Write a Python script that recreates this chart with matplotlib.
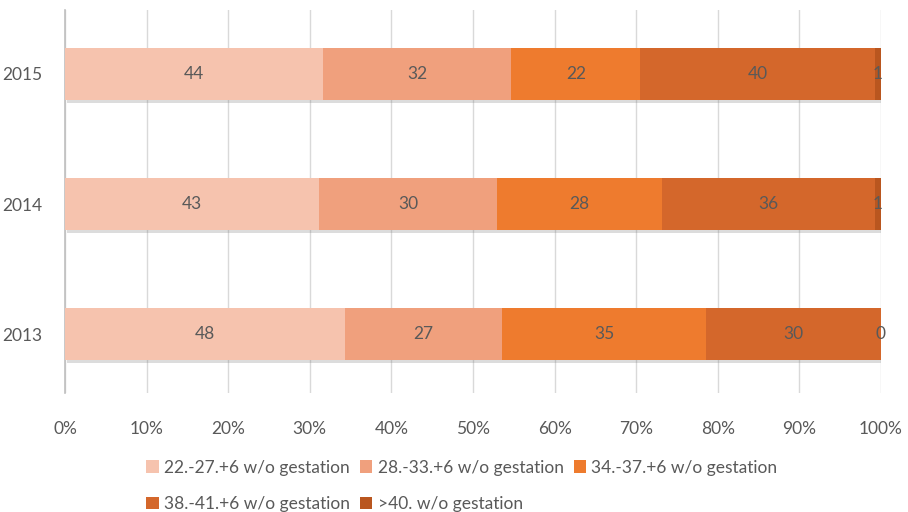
import matplotlib.pyplot as plt
import matplotlib.patheffects as pe
import numpy as np

plt.rcParams['font.family'] = ['Lato', 'DejaVu Sans']

years = ['2013', '2014', '2015']
groups = ['22.-27.+6 w/o gestation', '28.-33.+6 w/o gestation', '34.-37.+6 w/o gestation',
          '38.-41.+6 w/o gestation', '>40. w/o gestation']
# counts per year (2013, 2014, 2015) for each gestation group
g_22_27 = [48, 43, 44]
g_28_33 = [27, 30, 32]
g_34_37 = [35, 28, 22]
g_38_41 = [30, 36, 40]
g_40 = [0, 1, 1]

colors = ['#F6C3AE', '#F0A07D', '#EE7B2E', '#D4672B', '#B9561F']
series = [g_22_27, g_28_33, g_34_37, g_38_41, g_40]

counts = np.array(series, dtype=float)
totals = counts.sum(axis=0)
shares = counts / totals * 100

fig = plt.figure(figsize=(9.08, 5.12), dpi=100)
ax = fig.add_axes([65 / 908, 1 - 393 / 512, 816 / 908, 383 / 512])

y = np.arange(len(years))
left = np.zeros(len(years))
handles = []
for i, (vals, share) in enumerate(zip(series, shares)):
    bars = ax.barh(y, share, left=left, height=0.4, color=colors[i], label=groups[i], zorder=3)
    handles.append(bars)
    for j in range(len(years)):
        ax.text(left[j] + share[j] / 2, y[j], str(vals[j]), ha='center', va='center',
                color='#595959', fontsize=12.5, zorder=5)
    left += share

# soft shadow behind each full bar
for j in range(len(years)):
    ax.barh(y[j], 100, height=0.4, color='none', zorder=2,
            path_effects=[pe.SimplePatchShadow(offset=(1.5, -2), shadow_rgbFace='#777777', alpha=0.25)])
    ax.barh(y[j], 100, height=0.4, color='#ffffff', zorder=2.5)

ax.set_xlim(0, 100)
ax.set_ylim(-0.45, 2.49)
ax.set_xticks(np.arange(0, 101, 10))
ax.set_xticklabels([f'{v}%' for v in range(0, 101, 10)])
ax.set_yticks(y)
ax.set_yticklabels(years)
ax.tick_params(length=0, labelsize=12.5, labelcolor='#595959')
ax.tick_params(axis='x', pad=20)
ax.tick_params(axis='y', pad=16)
ax.grid(axis='x', color='#d9d9d9', linewidth=1, zorder=0)
for s in ['top', 'right', 'bottom']:
    ax.spines[s].set_visible(False)
ax.spines['left'].set_color('#bfbfbf')
ax.spines['left'].set_linewidth(1.2)

# row-major legend order for ncol=3
order = [0, 3, 1, 4, 2]
fig.legend([handles[k] for k in order], [groups[k] for k in order], ncol=3,
           loc='center', bbox_to_anchor=(462 / 908, 1 - 486 / 512), frameon=False,
           fontsize=12.5, labelcolor='#595959', handlelength=0.7, handleheight=0.7,
           handletextpad=0.3, columnspacing=0.6, labelspacing=1.2)

fig.savefig('out.png', dpi=100)
